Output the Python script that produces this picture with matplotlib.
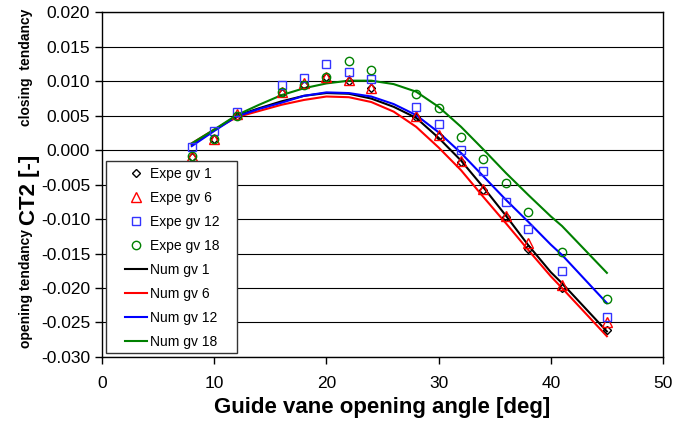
import matplotlib
matplotlib.use("Agg")
import matplotlib.pyplot as plt
from matplotlib.patches import Rectangle
from matplotlib.ticker import FormatStrFormatter

plt.rcParams['font.family'] = ['Liberation Sans', 'DejaVu Sans']

# --- Experimental data (CT2 vs guide vane angle) ---
angle_expe = [8, 10, 12, 16, 18, 20, 22, 24, 28, 30, 32, 34, 36, 38, 41, 45]
expe_gv1 = [-0.0010, 0.0016, 0.0050, 0.0083, 0.0094, 0.0106, 0.0101, 0.0090,
            0.0048, 0.0020, -0.0017, -0.0057, -0.0097, -0.0144, -0.0200, -0.0261]
expe_gv6 = [-0.0008, 0.0016, 0.0052, 0.0085, 0.0097, 0.0107, 0.0102, 0.0091,
            0.0050, 0.0022, -0.0016, -0.0056, -0.0096, -0.0135, -0.0196, -0.0250]
expe_gv12 = [0.0004, 0.0028, 0.0056, 0.0095, 0.0105, 0.0125, 0.0114, 0.0103,
             0.0063, 0.0038, 0.0001, -0.0030, -0.0075, -0.0115, -0.0175, -0.0242]
expe_gv18 = [-0.0008, 0.0016, 0.0050, 0.0085, 0.0094, 0.0107, 0.0130, 0.0116,
             0.0081, 0.0062, 0.0019, -0.0013, -0.0047, -0.0089, -0.0148, -0.0216]

# --- Numerical data ---
angle_num = [8, 10, 12, 14, 16, 18, 20, 22, 24, 26, 28, 30, 32, 34, 36, 38, 40, 41, 43, 45]
num_gv1 = [0.0008, 0.0029, 0.0050, 0.0061, 0.0071, 0.0079, 0.0083, 0.0082, 0.0075, 0.0063,
           0.0047, 0.0018, -0.0015, -0.0054, -0.0095, -0.0138, -0.0177, -0.0193, -0.0228, -0.0263]
num_gv6 = [0.0010, 0.0030, 0.0048, 0.0057, 0.0066, 0.0073, 0.0078, 0.0077, 0.0070, 0.0056,
           0.0034, 0.0004, -0.0029, -0.0068, -0.0106, -0.0145, -0.0183, -0.0200, -0.0235, -0.0270]
num_gv12 = [0.0006, 0.0028, 0.0049, 0.0060, 0.0069, 0.0079, 0.0084, 0.0083, 0.0078, 0.0067,
            0.0051, 0.0026, -0.0004, -0.0038, -0.0072, -0.0104, -0.0137, -0.0152, -0.0187, -0.0222]
num_gv18 = [0.0010, 0.0030, 0.0051, 0.0066, 0.0080, 0.0090, 0.0097, 0.0101, 0.0101, 0.0096,
            0.0085, 0.0063, 0.0034, 0.0001, -0.0033, -0.0065, -0.0096, -0.0110, -0.0144, -0.0178]

fig, ax = plt.subplots(figsize=(6.93, 4.30), dpi=100)
fig.subplots_adjust(left=0.1472, right=0.9567, top=0.971, bottom=0.170)

# --- Grid ---
ax.set_axisbelow(True)
ax.yaxis.grid(True, color='black', linewidth=0.8)

# --- Numerical curves ---
ax.plot(angle_num, num_gv1, color='black', lw=1.5, label='Num gv 1', zorder=2)
ax.plot(angle_num, num_gv6, color='#ff0000', lw=1.5, label='Num gv 6', zorder=2)
ax.plot(angle_num, num_gv12, color='#0000ff', lw=1.5, label='Num gv 12', zorder=2)
ax.plot(angle_num, num_gv18, color='#008000', lw=1.5, label='Num gv 18', zorder=2)

# --- Experimental points ---
mk = dict(linestyle='none', markerfacecolor='none', markeredgewidth=1.0, zorder=3)
ax.plot(angle_expe, expe_gv1, marker='D', markersize=4.5, color='black', label='Expe gv 1', **mk)
ax.plot(angle_expe, expe_gv6, marker='^', markersize=6.5, color='#ff0000', label='Expe gv 6', **mk)
ax.plot(angle_expe, expe_gv12, marker='s', markersize=6, color='#3333ff', label='Expe gv 12', **mk)
ax.plot(angle_expe, expe_gv18, marker='o', markersize=6, color='#008000', label='Expe gv 18', **mk)

ax.set_xlim(0, 50)
ax.set_ylim(-0.030, 0.020)
ax.set_xticks(range(0, 51, 10))
ax.set_yticks([-0.030 + 0.005 * i for i in range(11)])
ax.yaxis.set_major_formatter(FormatStrFormatter('%.3f'))
ax.tick_params(labelsize=12.5, length=5, width=1, direction='out')
ax.tick_params(axis='x', pad=9)
for s in ax.spines.values():
    s.set_linewidth(1)

# legend box drawn by hand (wider side padding than matplotlib's frame)
ax.add_patch(Rectangle((0.0071, 0.0116), 0.2335, 0.557, transform=ax.transAxes,
                       facecolor='white', edgecolor='#333333', lw=1, zorder=4))

# legend order: expe first, then num
h, l = ax.get_legend_handles_labels()
order = [4, 5, 6, 7, 0, 1, 2, 3]
ax.legend([h[i] for i in order], [l[i] for i in order], loc='upper left',
          bbox_to_anchor=(0.041, 0.5515), borderaxespad=0, borderpad=0,
          fontsize=10, frameon=False, labelspacing=0.72, handlelength=1.6,
          handletextpad=0.2)

# --- Labels ---
fig.text(382 / 693, 1 - 408 / 430, 'Guide vane opening angle [deg]', ha='center', va='center',
         fontsize=16, fontweight='bold')
fig.text(29 / 693, 1 - 190 / 430, 'CT2 [-]', ha='center', va='center', rotation=90,
         fontsize=16, fontweight='bold')
fig.text(26 / 693, 1 - 67 / 430, 'closing  tendancy', ha='center', va='center', rotation=90,
         fontsize=10, fontweight='bold')
fig.text(26 / 693, 1 - 288 / 430, 'opening tendancy', ha='center', va='center', rotation=90,
         fontsize=10, fontweight='bold')

fig.savefig('out.png', dpi=100)
